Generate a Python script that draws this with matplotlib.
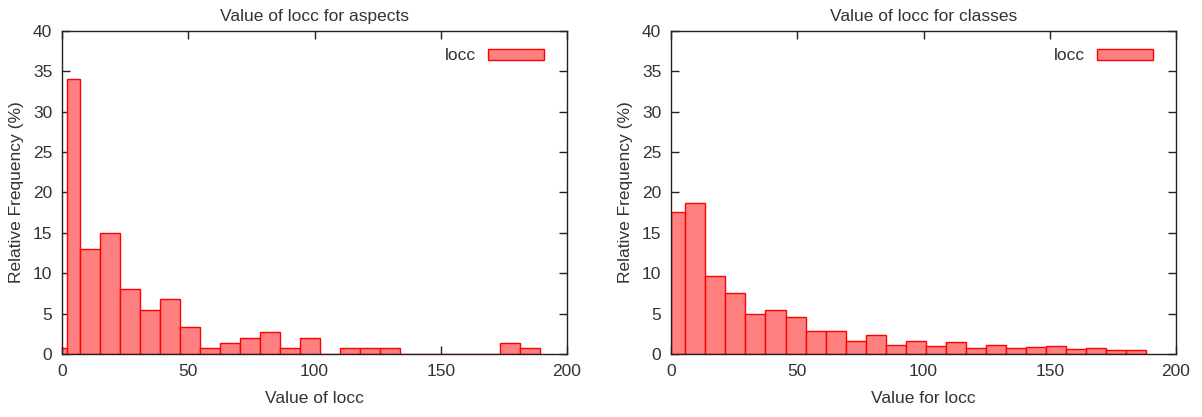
import numpy as np
import matplotlib
matplotlib.use("Agg")
import matplotlib.pyplot as plt

plt.rcParams['font.family'] = ['Liberation Sans', 'DejaVu Sans']

# histogram of locc for aspects: bin left edges and relative frequency (%)
aspect_edges = [0.0, 2.1] + [round(7.1 + 7.93 * k, 2) for k in range(23)]
aspect_end = 7.1 + 7.93 * 23
aspect_freq = [0.7, 34.0,
               13.0, 15.0, 8.1, 5.4, 6.8, 3.4, 0.7, 1.4, 2.0, 2.7, 0.7, 2.0,
               0.0, 0.7, 0.7, 0.7, 0.0, 0.0, 0.0, 0.0, 0.0, 1.4, 0.7]

# histogram of locc for classes
class_edges = [0.0] + [round(5.7 + 7.93 * k, 2) for k in range(23)]
class_end = 5.7 + 7.93 * 23
class_freq = [17.6,
              18.7, 9.7, 7.6, 4.9, 5.5, 4.6, 2.9, 2.8, 1.6, 2.4, 1.1, 1.6,
              1.0, 1.45, 0.7, 1.1, 0.7, 0.87, 1.0, 0.66, 0.7, 0.53, 0.5]

titles = ["Value of locc for aspects", "Value of locc for classes"]
xlabels = ["Value of locc", "Value for locc"]

fill = "#ff8080"
edge = "#ff0000"
ink = "#222222"
text_ink = "#333333"
fs = 12.5

fig = plt.figure(figsize=(12.02, 4.17), dpi=100)
ax1 = fig.add_axes([62 / 1202, 63 / 417, 505 / 1202, 323 / 417])
ax2 = fig.add_axes([671 / 1202, 63 / 417, 505 / 1202, 323 / 417])

for ax, edges, end, freq, title, xlab in zip(
        [ax1, ax2], [aspect_edges, class_edges], [aspect_end, class_end],
        [aspect_freq, class_freq], titles, xlabels):
    rights = list(edges[1:]) + [end]
    widths = np.array(rights) - np.array(edges)
    ax.bar(edges, freq, width=widths, align='edge', color=fill,
           edgecolor=edge, linewidth=1.0, label='locc', zorder=2)
    ax.set_xlim(0, 200)
    ax.set_ylim(0, 40)
    ax.set_xticks(range(0, 201, 50))
    ax.set_yticks(range(0, 41, 5))
    ax.tick_params(direction='in', length=6, width=1.0, top=True, right=True,
                   labelsize=fs, color=ink, labelcolor=text_ink, pad=7)
    for s in ax.spines.values():
        s.set_color(ink)
        s.set_linewidth(1.0)
        s.set_zorder(3)
    ax.set_title(title, fontsize=fs, color=text_ink, pad=7)
    ax.set_xlabel(xlab, fontsize=fs, color=text_ink, labelpad=9)
    ax.set_ylabel("Relative Frequency (%)", fontsize=fs, color=text_ink, labelpad=6)
    ax.legend(loc='upper right', bbox_to_anchor=(0.985, 0.995), frameon=False,
              markerfirst=False, handlelength=3.2, handleheight=0.6,
              handletextpad=0.7, fontsize=fs, labelcolor=text_ink)

fig.savefig("out.png", dpi=100)
